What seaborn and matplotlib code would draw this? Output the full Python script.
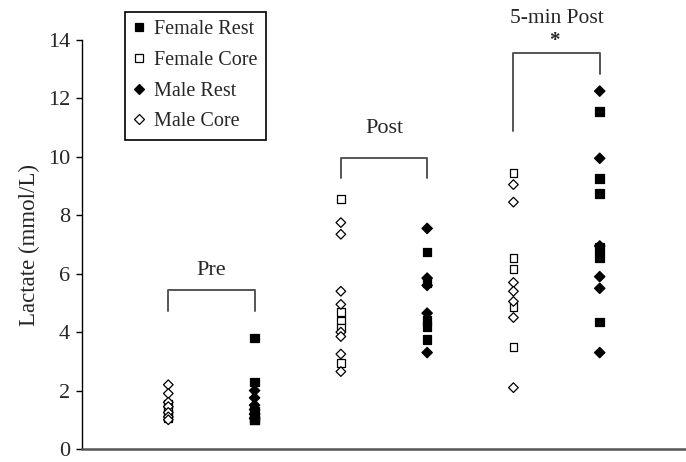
import matplotlib
matplotlib.use("Agg")
import matplotlib.pyplot as plt
from matplotlib.lines import Line2D
import pandas as pd
import seaborn as sns

# time points and measured lactate values (mmol/L)
time_points = ["Pre", "Post", "5-min Post"]

female_rest = [
    [3.8, 2.3, 1.3, 1.1, 1.0, 1.0],
    [6.75, 5.7, 4.4, 4.2, 3.75],
    [11.55, 9.25, 8.75, 6.9, 6.55, 4.35],
]
female_core = [
    [1.55, 1.35, 1.2, 1.05],
    [8.55, 4.7, 4.4, 4.15, 2.95],
    [9.45, 6.55, 6.15, 4.85, 3.5],
]
male_rest = [
    [2.0, 1.75, 1.5, 1.35, 1.2, 1.05],
    [7.55, 5.85, 5.6, 4.65, 3.3],
    [12.25, 9.95, 6.95, 5.9, 5.5, 3.3],
]
male_core = [
    [2.2, 1.9, 1.6, 1.45, 1.25, 1.1, 1.0],
    [7.75, 7.35, 5.4, 4.95, 4.0, 3.85, 3.25, 2.65],
    [9.05, 8.45, 5.7, 5.4, 5.05, 4.5, 2.1],
]

group_names = ["Female Rest", "Female Core", "Male Rest", "Male Core"]
group_values = [female_rest, female_core, male_rest, male_core]

# core samples sit at the left of each pair, rest samples at the right
rows = []
for name, values in zip(group_names, group_values):
    offset = 1 if "Core" in name else 2
    for i, tp in enumerate(time_points):
        for v in values[i]:
            rows.append({"group": name, "time": tp, "pos": i * 2 + offset, "lactate": v})
df = pd.DataFrame(rows)

sns.set_style("white")
plt.rcParams["font.family"] = ["Liberation Serif", "DejaVu Serif"]

fig = plt.figure(figsize=(6.86, 4.62), dpi=100)
ax = fig.add_axes([82 / 686, 13 / 462, 604 / 686, 409 / 462])

markers = {"Female Rest": "s", "Female Core": "s", "Male Rest": "D", "Male Core": "D"}
palette = {"Female Rest": "black", "Female Core": "white", "Male Rest": "black", "Male Core": "white"}
sizes = {"Female Rest": 38, "Female Core": 32, "Male Rest": 28, "Male Core": 24}

sns.scatterplot(data=df, x="pos", y="lactate", hue="group", style="group", size="group",
                markers=markers, palette=palette, sizes=sizes, edgecolor="black",
                linewidth=0.9, legend=False, ax=ax, zorder=3)

ax.set_xlim(0, 7)
ax.set_ylim(0, 14)
ax.set_yticks(range(0, 15, 2))
ax.set_xticks([])
ax.set_xlabel("")
ax.set_ylabel("Lactate (mmol/L)", fontsize=16.5, labelpad=6)
ax.tick_params(axis="y", direction="out", length=4.5, width=1, color="black", labelsize=16, pad=4, left=True)

for side in ["top", "right"]:
    ax.spines[side].set_visible(False)
ax.spines["left"].set_color("black")
ax.spines["left"].set_linewidth(1)
ax.spines["bottom"].set_color("#555555")
ax.spines["bottom"].set_linewidth(1.8)

# brackets over each time point
bracket_color = "#555555"
ax.plot([1, 1, 2, 2], [4.73, 5.45, 5.45, 4.73], color=bracket_color, lw=1.4, clip_on=False)
ax.plot([3, 3, 4, 4], [9.26, 9.95, 9.95, 9.26], color=bracket_color, lw=1.4, clip_on=False)
ax.plot([5, 5, 6, 6], [10.87, 13.56, 13.56, 12.84], color=bracket_color, lw=1.4, clip_on=False)

ax.text(1.5, 6.1, "Pre", ha="center", va="center", fontsize=16)
ax.text(3.5, 10.97, "Post", ha="center", va="center", fontsize=16)
ax.text(5.5, 14.75, "5-min Post", ha="center", va="center", fontsize=15.5, clip_on=False)
ax.text(5.48, 13.95, "*", ha="center", va="center", fontsize=15, fontweight="bold", clip_on=False)

handles = []
for name in group_names:
    handles.append(Line2D([], [], linestyle="", marker=markers[name],
                          markersize=5.6 if markers[name] == "s" else 5.0,
                          markerfacecolor=palette[name], markeredgecolor="black",
                          markeredgewidth=0.9))
ax.legend(handles, group_names, loc="upper left", bbox_to_anchor=(125 / 686, 1 - 12 / 462),
          bbox_transform=fig.transFigure, borderaxespad=0, fontsize=14.5, frameon=True,
          fancybox=False, edgecolor="black", framealpha=1, handlelength=0.6,
          handletextpad=0.45, labelspacing=0.58, borderpad=0.4)
ax.get_legend().get_frame().set_linewidth(1.2)

fig.savefig("out.png", dpi=100)
